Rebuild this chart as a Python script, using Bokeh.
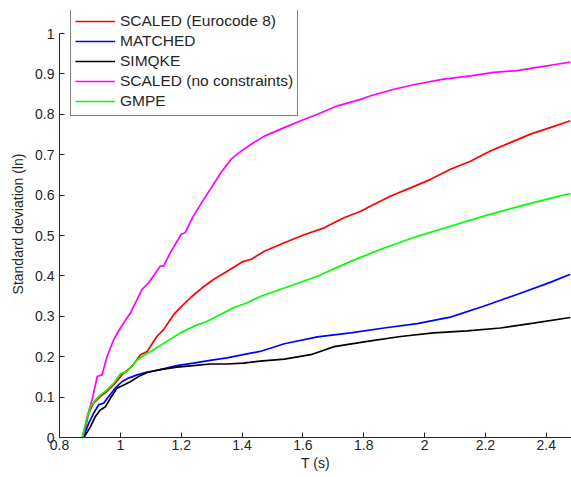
from bokeh.plotting import figure
from bokeh.models import Legend, LegendItem, FixedTicker, Range1d
from bokeh.embed import file_html
from bokeh.resources import INLINE

# Period axis (s) and standard deviation of ln(spectral ordinate) for each record set
t_scaled_ec8 = [0.878, 0.896, 0.912, 0.934, 0.956, 0.978, 1.005, 1.038, 1.066, 1.088, 1.120,
                1.142, 1.175, 1.202, 1.235, 1.268, 1.306, 1.350, 1.399, 1.432, 1.473, 1.539,
                1.604, 1.670, 1.735, 1.790, 1.823, 1.889, 1.954, 2.020, 2.085, 2.151, 2.216,
                2.282, 2.348, 2.413, 2.479]
sd_scaled_ec8 = [0.0, 0.060, 0.085, 0.101, 0.114, 0.130, 0.155, 0.176, 0.205, 0.213, 0.250,
                 0.267, 0.304, 0.325, 0.349, 0.370, 0.391, 0.411, 0.434, 0.442, 0.461, 0.482,
                 0.502, 0.519, 0.544, 0.560, 0.573, 0.598, 0.618, 0.639, 0.664, 0.684, 0.709,
                 0.730, 0.751, 0.767, 0.784]

t_matched = [0.878, 0.896, 0.912, 0.929, 0.945, 0.961, 0.983, 1.005, 1.027, 1.055, 1.088,
             1.131, 1.186, 1.240, 1.295, 1.350, 1.404, 1.459, 1.539, 1.648, 1.757, 1.867,
             1.976, 2.085, 2.194, 2.304, 2.413, 2.479]
sd_matched = [0.0, 0.035, 0.060, 0.081, 0.085, 0.101, 0.122, 0.138, 0.147, 0.155, 0.162,
              0.168, 0.178, 0.184, 0.191, 0.197, 0.205, 0.213, 0.232, 0.249, 0.259, 0.271,
              0.282, 0.298, 0.325, 0.354, 0.384, 0.404]

t_simqke = [0.880, 0.902, 0.918, 0.934, 0.951, 0.967, 0.989, 1.011, 1.033, 1.060, 1.088,
            1.131, 1.186, 1.240, 1.295, 1.350, 1.404, 1.459, 1.539, 1.626, 1.703, 1.812,
            1.921, 2.030, 2.140, 2.249, 2.358, 2.479]
sd_simqke = [0.0, 0.027, 0.052, 0.068, 0.076, 0.097, 0.122, 0.130, 0.138, 0.151, 0.161,
             0.168, 0.174, 0.178, 0.182, 0.182, 0.184, 0.189, 0.194, 0.205, 0.225, 0.238,
             0.250, 0.259, 0.264, 0.271, 0.283, 0.297]

t_scaled_nc = [0.877, 0.891, 0.907, 0.924, 0.940, 0.956, 0.978, 1.000, 1.033, 1.071, 1.093,
               1.131, 1.142, 1.164, 1.200, 1.213, 1.240, 1.272, 1.331, 1.364, 1.397, 1.430,
               1.473, 1.539, 1.593, 1.648, 1.714, 1.790, 1.823, 1.899, 1.976, 2.063, 2.151,
               2.227, 2.304, 2.369, 2.435, 2.479]
sd_scaled_nc = [0.0, 0.052, 0.093, 0.151, 0.155, 0.200, 0.242, 0.271, 0.308, 0.366, 0.383,
                0.424, 0.424, 0.457, 0.503, 0.507, 0.548, 0.587, 0.656, 0.689, 0.709, 0.726,
                0.746, 0.767, 0.784, 0.800, 0.821, 0.837, 0.846, 0.862, 0.875, 0.887, 0.895,
                0.904, 0.908, 0.916, 0.924, 0.929]

t_gmpe = [0.874, 0.889, 0.902, 0.918, 0.934, 0.956, 0.978, 1.000, 1.022, 1.055, 1.076,
          1.109, 1.153, 1.197, 1.240, 1.284, 1.328, 1.371, 1.415, 1.459, 1.539, 1.648,
          1.757, 1.867, 1.976, 2.085, 2.194, 2.304, 2.413, 2.479]
sd_gmpe = [0.0, 0.043, 0.076, 0.093, 0.105, 0.118, 0.134, 0.158, 0.163, 0.192, 0.203,
           0.217, 0.238, 0.259, 0.275, 0.287, 0.304, 0.321, 0.333, 0.349, 0.370, 0.399,
           0.436, 0.469, 0.498, 0.523, 0.548, 0.571, 0.592, 0.604]

series_names = ["SCALED (Eurocode 8)", "MATCHED", "SIMQKE", "SCALED (no constraints)", "GMPE"]
series_colors = ["#ff0000", "#0000ff", "#000000", "#ff00ff", "#00ff00"]

x_ticks = [0.8, 1.0, 1.2, 1.4, 1.6, 1.8, 2.0, 2.2, 2.4]
x_tick_labels = ["0.8", "1", "1.2", "1.4", "1.6", "1.8", "2", "2.2", "2.4"]
y_ticks = [0.0, 0.1, 0.2, 0.3, 0.4, 0.5, 0.6, 0.7, 0.8, 0.9, 1.0]
y_tick_labels = ["0", "0.1", "0.2", "0.3", "0.4", "0.5", "0.6", "0.7", "0.8", "0.9", "1"]

FONT = "Liberation Sans"
TEXT = "#262626"
AXIS = "#262626"

# The frame reaches a little above 1 so the legend box can sit over the top of the y axis,
# while the axis line itself stops at 1.
p = figure(width=571, height=477, output_backend="svg", toolbar_location=None,
           x_range=Range1d(0.8, 2.483), y_range=Range1d(0, 1.057),
           min_border_left=59, min_border_right=0, min_border_top=10, min_border_bottom=40,
           x_axis_label="T (s)", y_axis_label="Standard deviation (ln)")
p.outline_line_color = None
p.xgrid.visible = False
p.ygrid.visible = False
p.background_fill_color = "white"
p.border_fill_color = "white"

for ax in (p.xaxis[0], p.yaxis[0]):
    ax.axis_line_color = AXIS
    ax.major_tick_line_color = AXIS
    ax.minor_tick_line_color = None
    ax.major_tick_in = 5
    ax.major_tick_out = 0
    ax.major_label_text_font = FONT
    ax.major_label_text_font_size = "14px"
    ax.major_label_text_color = TEXT
    ax.axis_label_text_font = FONT
    ax.axis_label_text_font_size = "14px"
    ax.axis_label_text_font_style = "normal"
    ax.axis_label_text_color = TEXT

p.xaxis.ticker = FixedTicker(ticks=x_ticks)
p.xaxis.major_label_overrides = dict(zip(x_ticks, x_tick_labels))
p.xaxis.major_label_standoff = 2
p.xaxis.axis_label_standoff = 2
p.yaxis.ticker = FixedTicker(ticks=y_ticks)
p.yaxis.major_label_overrides = dict(zip(y_ticks, y_tick_labels))
p.yaxis.major_label_standoff = 5
p.yaxis.axis_label_standoff = 6
p.yaxis.bounds = (0, 1)

curves = [(t_scaled_ec8, sd_scaled_ec8), (t_matched, sd_matched), (t_simqke, sd_simqke),
          (t_scaled_nc, sd_scaled_nc), (t_gmpe, sd_gmpe)]

items = []
for (t, sd), name, color in zip(curves, series_names, series_colors):
    r = p.line(t, sd, line_color=color, line_width=1.7)
    items.append(LegendItem(label=name, renderers=[r]))

legend = Legend(items=items, location=(11, 321))
legend.border_line_color = "#000000"
legend.border_line_width = 1
legend.background_fill_color = "white"
legend.background_fill_alpha = 1
legend.padding = 4
legend.spacing = 0
legend.margin = 0
legend.label_height = 20
legend.glyph_height = 20
legend.glyph_width = 40
legend.label_standoff = 5
legend.label_text_font = FONT
legend.label_text_font_size = "15.5px"
legend.label_text_color = TEXT
p.add_layout(legend)

open("out.html", "w").write(file_html(p, INLINE))
